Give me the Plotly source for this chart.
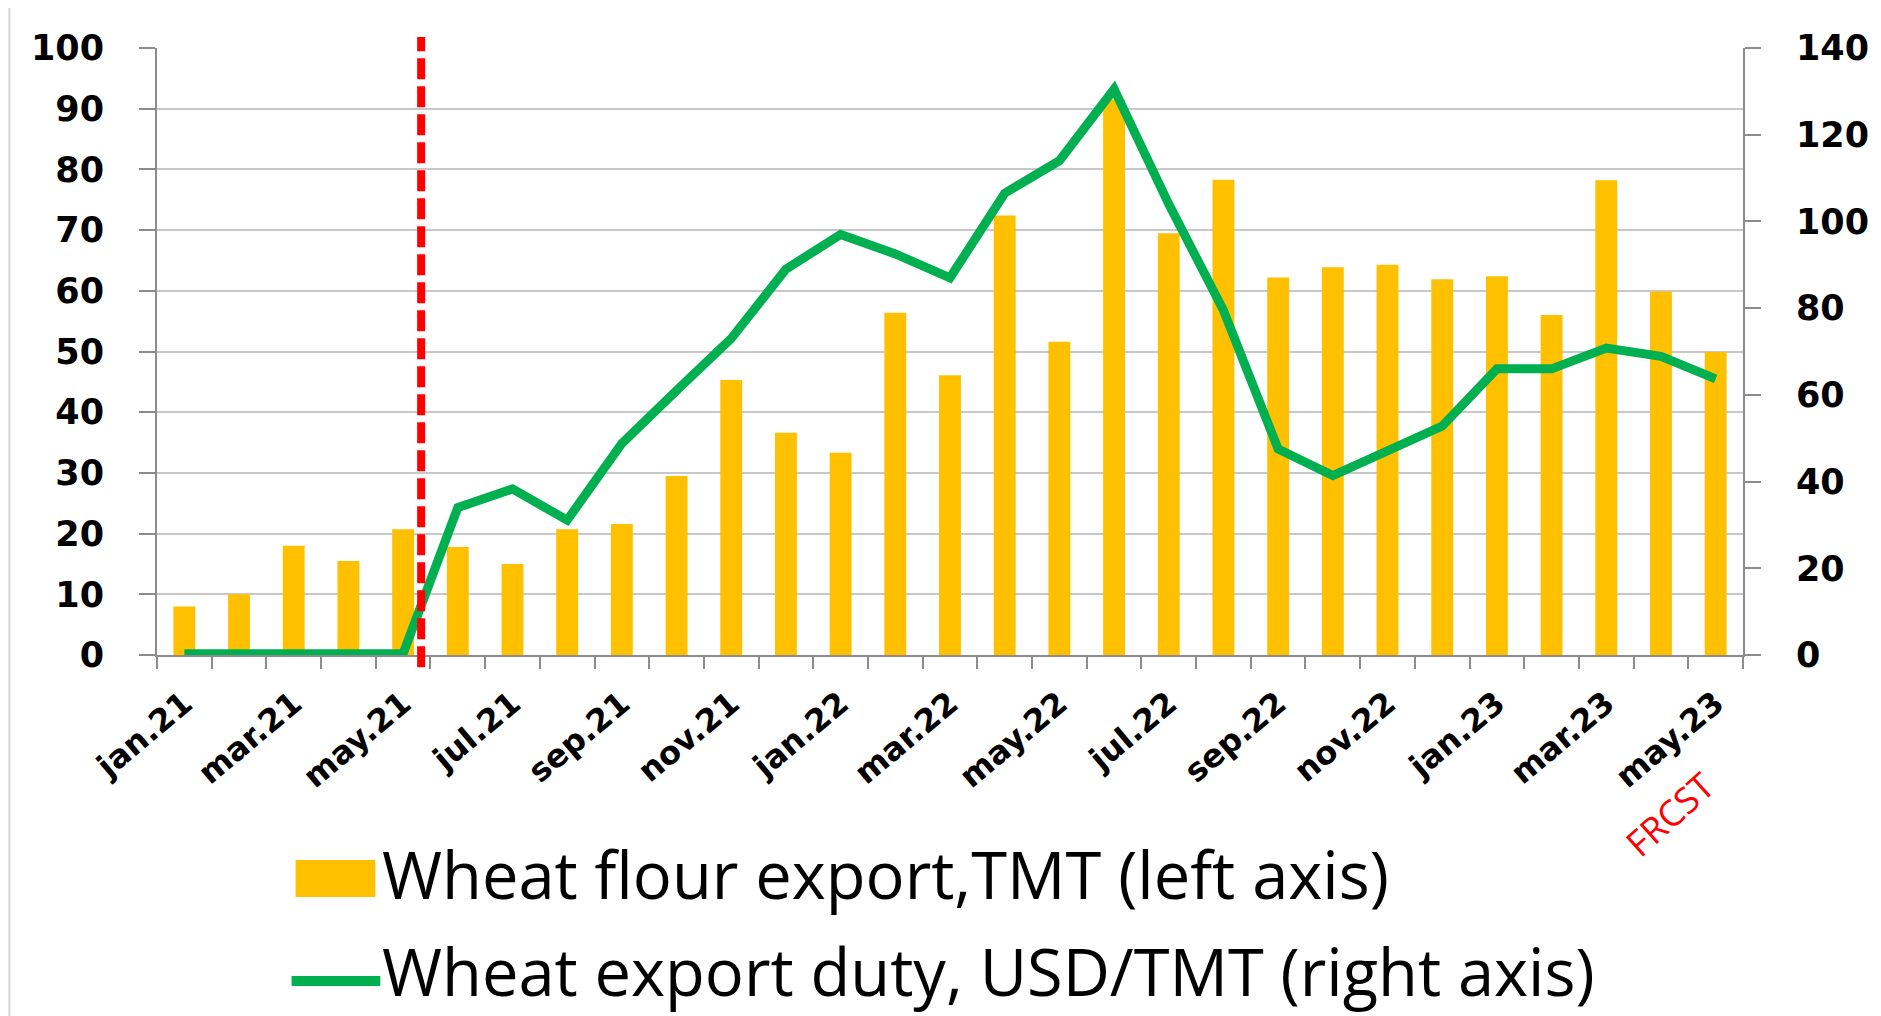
import plotly.graph_objects as go

# monthly data, jan.21 .. may.23 (may.23 = forecast)
months = ["jan.21", "feb.21", "mar.21", "apr.21", "may.21", "jun.21", "jul.21", "aug.21",
          "sep.21", "oct.21", "nov.21", "dec.21", "jan.22", "feb.22", "mar.22", "apr.22",
          "may.22", "jun.22", "jul.22", "aug.22", "sep.22", "oct.22", "nov.22", "dec.22",
          "jan.23", "feb.23", "mar.23", "apr.23", "may.23"]
flour_export = [8.0, 10.0, 18.0, 15.5, 20.7, 17.8, 15.0, 20.7, 21.6, 29.5, 45.3, 36.6,
                33.3, 56.4, 46.1, 72.4, 51.6, 91.5, 69.5, 78.3, 62.2, 63.9, 64.3, 61.9,
                62.4, 56.0, 78.2, 59.9, 49.9]
export_duty = [0.3, 0.3, 0.3, 0.3, 0.3, 34.0, 38.3, 31.1, 48.8, 61.0, 73.0, 89.0,
               97.0, 92.5, 87.0, 106.5, 114.0, 130.5, 104.0, 79.5, 47.5, 41.4, 47.0, 52.8,
               66.0, 66.0, 70.8, 68.9, 63.7]
policy_change = 4.33  # position of the red dashed marker (between may.21 and jun.21)

x = list(range(len(months)))
tick_font = dict(family="DejaVu Sans", size=35, color="black", weight="bold")

# the page body has an 8px margin, so the figure is shrunk and shifted by it
OFF = 8
W, H = 1881 - OFF, 1016 - OFF
# plot area in page pixels
L, R, T, B = 157, 1748, 48, 655


def px(v):
    return (v - L) / (R - L)


def py(v):
    return (B - v) / (B - T)


fig = go.Figure()
fig.add_trace(go.Bar(x=x, y=flour_export, marker=dict(color="#FFC000", line_width=0),
                     name="Wheat flour export,TMT (left axis)", yaxis="y"))
fig.add_trace(go.Scatter(x=x, y=export_duty, mode="lines",
                         line=dict(color="#00B050", width=9),
                         name="Wheat export duty, USD/TMT (right axis)", yaxis="y2"))

fig.update_layout(
    width=W, height=H,
    margin=dict(l=L - OFF, r=1881 - R, t=T - OFF, b=1016 - B),
    plot_bgcolor="white", paper_bgcolor="white",
    showlegend=False, bargap=0.6,
    xaxis=dict(range=[-0.5, len(months) - 0.5], tickvals=x[::2], ticktext=months[::2],
               tickangle=-40, tickfont=dict(family="DejaVu Sans", size=32, color="black", weight="bold"),
               ticks="", showgrid=False, zeroline=False,
               showline=True, linecolor="#8c8c8c", linewidth=2,
               ticklabelstandoff=15,
               minor=dict(tick0=-0.5, dtick=1, ticks="outside", ticklen=12,
                          tickcolor="#8c8c8c", tickwidth=2, showgrid=False)),
    yaxis=dict(range=[0, 100], dtick=10, tickfont=tick_font,
               showgrid=True, gridcolor="#c8c8c8", gridwidth=2, zeroline=False,
               showline=True, linecolor="#8c8c8c", linewidth=2,
               ticks="outside", ticklen=16, tickcolor="#8c8c8c", tickwidth=2,
               ticklabelstandoff=28),
    yaxis2=dict(range=[0, 140], dtick=20, overlaying="y", side="right", tickfont=tick_font,
                showgrid=False, zeroline=False,
                showline=True, linecolor="#8c8c8c", linewidth=2,
                ticks="outside", ticklen=16, tickcolor="#8c8c8c", tickwidth=2,
                ticklabelstandoff=28),
)

# red dashed vertical marker
fig.add_shape(type="line", xref="x", yref="paper", x0=policy_change, x1=policy_change,
              y0=-0.02, y1=1.018, line=dict(color="#FF0000", width=8, dash="21px,7px"))

# thin slide border on the far left
fig.add_shape(type="line", xref="paper", yref="paper", x0=px(9), x1=px(9),
              y0=py(1016), y1=py(OFF), line=dict(color="#d4d4d4", width=2))

# forecast label
fig.add_annotation(x=px(1674), y=py(814), xref="paper", yref="paper",
                   xanchor="center", yanchor="middle",
                   text="FRCST", showarrow=False, textangle=-42,
                   font=dict(family="Open Sans", size=36, color="#FF0000"))

# legend drawn by hand (large symbols)
legend_font = dict(family="Open Sans", size=65, color="black")
fig.add_shape(type="rect", xref="paper", yref="paper",
              x0=px(296), x1=px(376), y0=py(897), y1=py(860),
              fillcolor="#FFC000", line_width=0)
fig.add_annotation(x=px(381), y=py(874), xref="paper", yref="paper",
                   xanchor="left", yanchor="middle", showarrow=False,
                   text="Wheat flour export,TMT (left axis)", font=legend_font)
fig.add_shape(type="line", xref="paper", yref="paper",
              x0=px(292), x1=px(381), y0=py(981), y1=py(981),
              line=dict(color="#00B050", width=10))
fig.add_annotation(x=px(381), y=py(971), xref="paper", yref="paper",
                   xanchor="left", yanchor="middle", showarrow=False,
                   text="Wheat export duty, USD/TMT (right axis)", font=legend_font)

fig.write_html("out.html")
